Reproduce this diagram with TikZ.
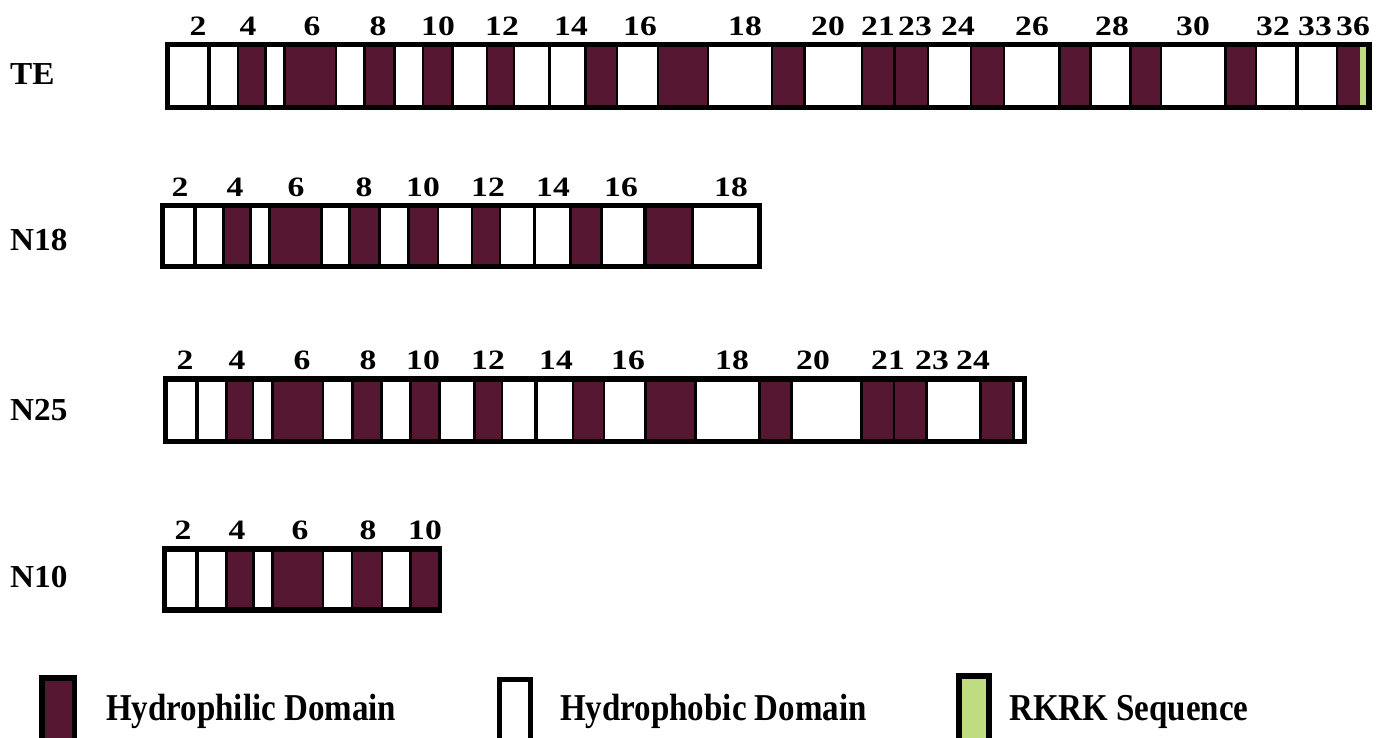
\documentclass[tikz,border=0pt]{standalone}
\usepackage{fontspec}
\setmainfont{Liberation Serif}
\definecolor{segm}{RGB}{86,23,50}
\definecolor{segg}{RGB}{192,220,128}
\colorlet{segw}{white}
\begin{document}
\begin{tikzpicture}[x=1pt,y=-1pt,
  num/.style={font=\fontsize{28}{30}\selectfont\bfseries, inner sep=0pt, xscale=1.2, transform shape},
  rowlab/.style={font=\fontsize{32}{34}\selectfont\bfseries, anchor=west, inner sep=0pt, xscale=1.04, transform shape},
  legtext/.style={font=\fontsize{33}{35}\selectfont\bfseries, anchor=base west, inner sep=0pt, yscale=1.15, transform shape}]
\useasboundingbox (0,0) rectangle (1378,738);

% ---------- TE ----------
\node[rowlab] (lTE) at (10,74) {TE};
\fill[black] (165,42) rectangle (1372,110);
\foreach \a/\b/\c in {170/207/segw, 211/237/segw, 239/264/segm, 267/283/segw, 286/335/segm,
  337/363/segw, 366/393/segm, 396/422/segw, 424/451/segm, 454/486/segw, 488/513/segm,
  515/548/segw, 551/584/segw, 587/616/segm, 618/657/segw, 659/707/segm, 709/771/segw,
  773/803/segm, 806/861/segw, 863/893/segm, 896/927/segm, 929/970/segw, 972/1003/segm,
  1005/1058/segw, 1061/1089/segm, 1092/1129/segw, 1132/1160/segm, 1162/1224/segw,
  1227/1255/segm, 1257/1295/segw, 1299/1336/segw, 1338/1360/segm, 1360/1366/segg}
  \fill[\c] (\a,47) rectangle (\b,105);
\foreach \x/\t in {198/2, 248/4, 312/6, 378/8, 438/10, 502/12, 571/14, 640/16, 745/18,
  828/20, 878/21, 915/23, 958/24, 1032/26, 1112/28, 1193/30, 1273/32, 1315/33, 1353/36}
  \node[num] (te\t) at (\x,26) {\t};

% ---------- N18 ----------
\node[rowlab] (lN18) at (10,240) {N18};
\fill[black] (160,203) rectangle (762,269);
\foreach \a/\b/\c in {165/193/segw, 197/222/segw, 225/249/segm, 252/268/segw, 271/320/segm,
  323/348/segw, 351/378/segm, 381/407/segw, 410/437/segm, 439/471/segw, 473/499/segm,
  501/533/segw, 536/569/segw, 572/600/segm, 603/643/segw, 647/691/segm, 694/757/segw}
  \fill[\c] (\a,208) rectangle (\b,264);
\foreach \x/\t in {180/2, 235/4, 296/6, 364/8, 423/10, 488/12, 553/14, 621/16, 731/18}
  \node[num] (na\t) at (\x,187) {\t};

% ---------- N25 ----------
\node[rowlab] (lN25) at (10,410) {N25};
\fill[black] (163,376) rectangle (1027,444);
\foreach \a/\b/\c in {168/195/segw, 199/225/segw, 228/252/segm, 254/271/segw, 274/322/segm,
  324/351/segw, 354/380/segm, 383/409/segw, 412/438/segm, 441/473/segw, 476/501/segm,
  503/534/segw, 538/572/segw, 574/603/segm, 605/644/segw, 647/694/segm, 697/758/segw,
  761/790/segm, 793/860/segw, 863/893/segm, 895/925/segm, 928/979/segw, 982/1012/segm,
  1015/1022/segw}
  \fill[\c] (\a,382) rectangle (\b,439);
\foreach \x/\t in {185/2, 237/4, 302/6, 368/8, 423/10, 488/12, 556/14, 628/16, 732/18,
  813/20, 888/21, 932/23, 973/24}
  \node[num] (nb\t) at (\x,360) {\t};

% ---------- N10 ----------
\node[rowlab] (lN10) at (10,577) {N10};
\fill[black] (162,546) rectangle (442,613);
\foreach \a/\b/\c in {167/195/segw, 199/225/segw, 228/252/segm, 255/271/segw, 274/322/segm,
  324/351/segw, 353/381/segm, 383/409/segw, 412/438/segm}
  \fill[\c] (\a,552) rectangle (\b,607);
\foreach \x/\t in {183/2, 237/4, 300/6, 368/8, 425/10}
  \node[num] (nc\t) at (\x,530) {\t};

% ---------- Legend ----------
\fill[black] (39,675) rectangle (77,738);
\fill[segm] (45,681) rectangle (72,738);
\node[legtext] (lg1) at (106,720) {Hydrophilic Domain};
\fill[black] (497,677) rectangle (533,738);
\fill[segw] (502,682) rectangle (528,738);
\node[legtext] (lg2) at (560,720) {Hydrophobic Domain};
\fill[black] (956,673) rectangle (992,738);
\fill[segg] (962,679) rectangle (986,738);
\node[legtext] (lg3) at (1009,720) {RKRK Sequence};
\end{tikzpicture}
\end{document}
